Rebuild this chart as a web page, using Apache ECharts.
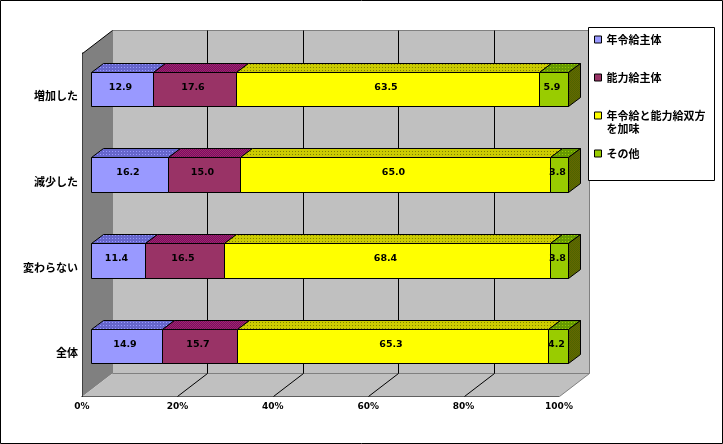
<!DOCTYPE html>
<html><head><meta charset="utf-8">
<style>html,body{margin:0;padding:0;background:#fff}#c{width:723px;height:444px}</style>
<script src="https://cdn.jsdelivr.net/npm/echarts@6/dist/echarts.min.js"></script>
</head><body><div id="c"></div>
<script>
const categories = ['増加した','減少した','変わらない','全体'];
const seriesNames = ['年令給主体','能力給主体','年令給と能力給双方を加味','その他'];
const nenrei = [12.9,16.2,11.4,14.9];
const noryoku = [17.6,15.0,16.5,15.7];
const ryoho = [63.5,65.0,68.4,65.3];
const sonota = [5.9,3.8,3.8,4.2];
const xTicks = [0,20,40,60,80,100];
const colors = ['#9999FF','#993366','#FFFF00','#99CC00'];
const values = [nenrei,noryoku,ryoho,sonota];

function pattern(base, size, dots, dotColor){
  const c=document.createElement('canvas');c.width=c.height=size;
  const x=c.getContext('2d');x.fillStyle=base;x.fillRect(0,0,size,size);
  x.fillStyle=dotColor;dots.forEach(p=>x.fillRect(p[0],p[1],1,1));
  return {image:c,repeat:'repeat'};
}
const DX=12, DY=9, OX=9, OY=-7;
const LF='"Noto Sans CJK JP"';
const NF='"DejaVu Sans"';

function wallItem(params){
  const g=params.coordSys, L=g.x+.5, R=g.x+g.width+.5, T=g.y+.5, B=g.y+g.height+.5, dx=30, dy=23;
  const grey='#808080';
  return {type:'group',children:[
    {type:'polygon',shape:{points:[[L+dx,T-dy],[R+dx,T-dy],[R+dx,B-dy],[L+dx,B-dy]]},style:{fill:'#C0C0C0',stroke:grey,lineWidth:1}},
    {type:'polygon',shape:{points:[[L,T],[L+dx,T-dy],[L+dx,B-dy],[L,B]]},style:{fill:grey,stroke:null}},
    {type:'polygon',shape:{points:[[L,B],[L+dx,B-dy],[R+dx,B-dy],[R,B]]},style:{fill:'#C0C0C0',stroke:null}},
    {type:'line',shape:{x1:L+dx,y1:B-dy,x2:R+dx,y2:B-dy},style:{stroke:grey,lineWidth:1}},
    {type:'line',shape:{x1:R,y1:B,x2:R+dx,y2:B-dy},style:{stroke:grey,lineWidth:1}},
    {type:'line',shape:{x1:L,y1:T,x2:L+dx,y2:T-dy},style:{stroke:'#000',lineWidth:1}}
  ]};
}
function gridItem(params,api){
  const g=params.coordSys, v=api.value(0), x=Math.round(api.coord([v,0])[0])+.5, B=g.y+g.height+.5, T=g.y+.5;
  if(v===0||v===100) return {type:'group',children:[]};
  return {type:'group',children:[
    {type:'polyline',shape:{points:[[x,B],[x+30,B-23],[x+30,T-23]]},style:{stroke:'#000',fill:null,lineWidth:1}}
  ]};
}
function barRenderer(si){
  return function(params,api){
    const start=api.value(0), val=api.value(1), cat=api.value(2), last=si===values.length-1;
    const a=api.coord([start,cat]), b=api.coord([Math.min(start+val,100),cat]);
    const h=api.size([0,1])[1]*0.4;
    const x0=Math.round(a[0]+OX)+.5, x1=Math.round(b[0]+OX)+.5;
    const y0=Math.round(a[1]+OY-h/2)+.5, y1=Math.round(a[1]+OY+h/2)+.5;
    const lw={stroke:'#000',lineWidth:1};
    const ch=[
      {type:'polygon',shape:{points:[[x0,y0],[x0+DX,y0-DY],[x1+DX,y0-DY],[x1,y0]]},style:{fill:topFill[si],...lw}},
      {type:'rect',shape:{x:x0,y:y0,width:x1-x0,height:y1-y0},style:{fill:colors[si],...lw}},
      {type:'text',x:(x0+x1)/2-2,y:(y0+y1)/2-2,style:{text:val.toFixed(1),font:'bold 9.5px '+NF,fill:'#000',align:'center',verticalAlign:'middle'},z2:10}
    ];
    if(last) ch.push({type:'polygon',shape:{points:[[x1,y0],[x1+DX,y0-DY],[x1+DX,y1-DY],[x1,y1]]},style:{fill:sideFill,...lw}});
    return {type:'group',children:ch};
  };
}
const topFill=[
  pattern('#6666CC',3,[[1,1]],'#9999FF'),
  pattern('#800066',2,[[0,0],[1,1]],'#993366'),
  pattern('#CCCC00',3,[[1,1]],'#808000'),
  pattern('#669900',3,[[1,1]],'#99CC00')
];
const sideFill=pattern('#666600',2,[[0,0],[1,1]],'#4D6600');

const barSeries=seriesNames.map((n,si)=>({
  name:n,type:'custom',coordinateSystem:'cartesian2d',
  itemStyle:{color:colors[si],borderColor:'#000',borderWidth:1},
  encode:{x:[0,1],y:2},
  data:categories.map((c,ci)=>{
    let s=0;for(let k=0;k<si;k++)s+=values[k][ci];
    return [s,values[si][ci],ci];
  }),
  renderItem:barRenderer(si),clip:false,z:3
}));

const chart=echarts.init(document.getElementById('c'),null,{renderer:'canvas'});
chart.setOption({
  animation:false,
  backgroundColor:'#fff',
  grid:{left:82,top:53,width:477,height:343,containLabel:false},
  xAxis:{type:'value',min:0,max:100,interval:20,
    axisLine:{show:true,lineStyle:{color:'#000',width:1}},
    axisTick:{show:true,inside:true,length:5,lineStyle:{color:'#000'}},
    splitLine:{show:false},
    axisLabel:{formatter:'{value}%',margin:6,color:'#000',fontFamily:NF,fontWeight:'bold',fontSize:9}},
  yAxis:{type:'category',inverse:true,data:categories,
    axisLine:{show:true,lineStyle:{color:'#000',width:1}},
    axisTick:{show:true,inside:true,length:5,lineStyle:{color:'#000'}},
    axisLabel:{margin:4,color:'#000',fontFamily:LF,fontWeight:'bold',fontSize:11}},
  legend:{orient:'vertical',left:594,top:20,padding:0,itemGap:-1,itemWidth:7,itemHeight:7,icon:'rect',
    data:seriesNames,selectedMode:false,
    formatter:function(n){
      return n.length>9 ? '\n'+n.slice(0,9)+'\n'+n.slice(9) : '\n'+n+'\n ';
    },
    textStyle:{color:'#000',fontFamily:LF,fontWeight:'bold',fontSize:11,lineHeight:13},
    itemStyle:{borderColor:'#000',borderWidth:1}},
  graphic:[
    {type:'rect',z:3,silent:true,shape:{x:588.5,y:27.5,width:126,height:153},style:{fill:'#fff',stroke:'#000',lineWidth:1}},
    {type:'rect',z:20,silent:true,shape:{x:.5,y:.5,width:722,height:443},style:{fill:'none',stroke:'#000',lineWidth:1}}
  ],
  series:[
    {type:'custom',coordinateSystem:'cartesian2d',data:[[0]],encode:{x:0},renderItem:wallItem,clip:false,silent:true,z:1},
    {type:'custom',coordinateSystem:'cartesian2d',data:xTicks.map(v=>[v]),encode:{x:0},renderItem:gridItem,clip:false,silent:true,z:1}
  ].concat(barSeries)
});
</script></body></html>
